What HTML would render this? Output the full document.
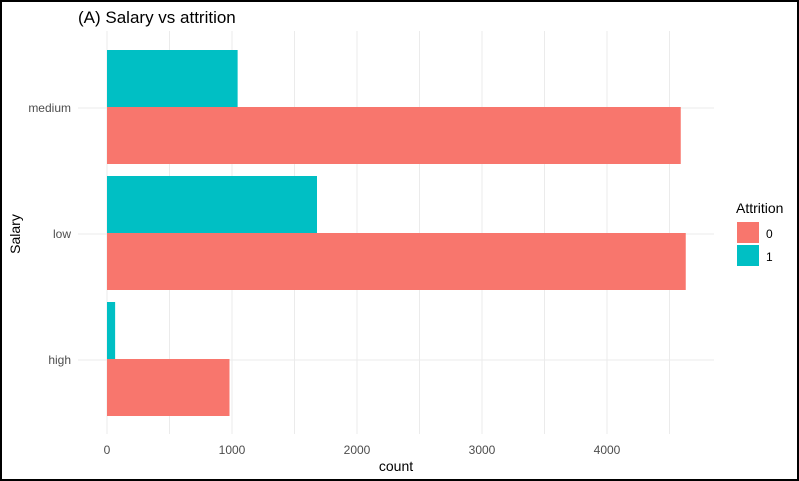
<!DOCTYPE html>
<html><head><meta charset="utf-8"><style>
body{margin:0;background:#fff}
svg{display:block;font-family:"Liberation Sans",sans-serif}
</style></head><body>
<svg id="c" width="799" height="481">
<rect x="1" y="1" width="797" height="479" fill="#fff" stroke="#000" stroke-width="2"/>
<text x="78" y="23" font-size="17" fill="#000">(A) Salary vs attrition</text>
<g id="grid"></g><g id="bars"></g><g id="axes"></g>
<text x="396" y="471" font-size="14" text-anchor="middle" fill="#000">count</text>
<text transform="translate(20,234) rotate(-90)" font-size="14" text-anchor="middle" fill="#000">Salary</text>
<g>
<text x="736" y="213" font-size="14" fill="#000">Attrition</text>
<rect x="737" y="222" width="22" height="21" fill="#F8766D"/>
<text x="766" y="238" font-size="12" fill="#000">0</text>
<rect x="737" y="245" width="22" height="21" fill="#00BFC4"/>
<text x="766" y="261" font-size="12" fill="#000">1</text>
</g>
</svg>
<script>
const categories=["medium","low","high"];
const series0=[4590,4630,980];
const series1=[1045,1680,65];
const xTicks=[0,1000,2000,3000,4000];
const xMinor=[500,1500,2500,3500,4500];
const ns="http://www.w3.org/2000/svg";
const X=v=>107+v*0.125;
const Y=i=>107+i*126;
const bw=57;
function mk(t,a,p){const e=document.createElementNS(ns,t);for(const k in a)e.setAttribute(k,a[k]);p.appendChild(e);return e;}
const g=document.getElementById('grid'),b=document.getElementById('bars'),ax=document.getElementById('axes');
xMinor.forEach(v=>{const l=mk('line',{x1:X(v),x2:X(v),y1:31,y2:434,stroke:'#ebebeb','stroke-width':1},g);

});
xTicks.forEach(v=>{const l=mk('line',{x1:X(v),x2:X(v),y1:31,y2:434,stroke:'#ebebeb','stroke-width':1},g);


const t=mk('text',{x:X(v),y:454,'font-size':12,'text-anchor':'middle',fill:'#4d4d4d'},ax);t.textContent=v;

});
categories.forEach((c,i)=>{const y=Y(i);
const l=mk('line',{x1:78,x2:714,y1:y+1,y2:y+1,stroke:'#ebebeb','stroke-width':1},g);


const t=mk('text',{x:71,y:y+5,'font-size':12,'text-anchor':'end',fill:'#4d4d4d'},ax);t.textContent=c;


const r1=mk('rect',{x:X(0),y:y-bw,width:X(series1[i])-X(0),height:bw,fill:'#00BFC4'},b);


const r0=mk('rect',{x:X(0),y:y,width:X(series0[i])-X(0),height:bw,fill:'#F8766D'},b);

});
</script>
</body></html>
